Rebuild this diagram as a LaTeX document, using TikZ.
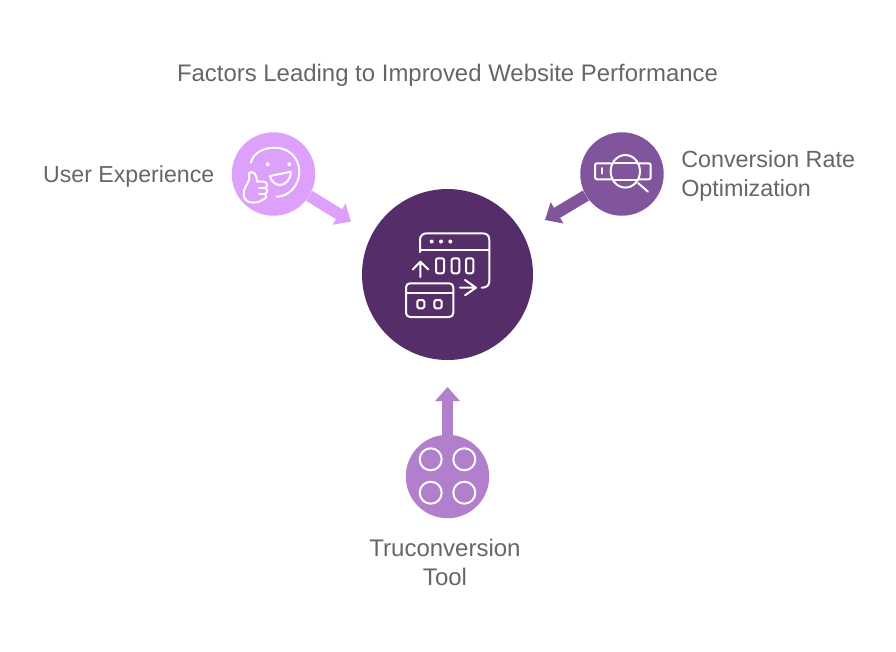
\documentclass[tikz,border=0pt]{standalone}
\usepackage{fontspec}
\setmainfont{Liberation Sans}
\usetikzlibrary{arrows.meta}
\definecolor{cCenter}{HTML}{552E69}
\definecolor{cLeft}{HTML}{DDA0FB}
\definecolor{cRight}{HTML}{81559B}
\definecolor{cBottom}{HTML}{B17FCB}
\definecolor{cText}{HTML}{666666}
\tikzset{
  x=0.75pt,y=-0.75pt,
  hub/.style={circle,inner sep=0pt,minimum size=128.25pt,fill=cCenter},
  sat/.style={circle,inner sep=0pt,minimum size=62.6pt},
  push/.style={line width=8.8pt,-{Triangle[length=10.5pt,width=18pt]}},
  ico/.style={draw=white,line width=1.5pt,line cap=round,line join=round,fill=none},
  lab/.style={text=cText,inner sep=0pt},
}
\begin{document}
\begin{tikzpicture}
\useasboundingbox (0,0) rectangle (896,651);
\fill[white] (0,0) rectangle (896,651);
\node[lab,font=\fontsize{17.95pt}{21.8pt}\selectfont] (title) at (447.5,75.5) {Factors Leading to Improved Website Performance};
\node[hub] (hub) at (447.5,274.5) {};
\node[sat,fill=cLeft] (ux) at (273.5,174) {};
\node[sat,fill=cRight] (cro) at (622,174) {};
\node[sat,fill=cBottom] (tool) at (447.5,476.5) {};
\coordinate (uxtip) at (351,221.5);
\coordinate (crotip) at (545,220);
\coordinate (tooltip) at (447.5,387);
\draw[push,cLeft] (ux) -- (uxtip);
\draw[push,cRight] (cro) -- (crotip);
\draw[push,cBottom] (tool) -- (tooltip);
\node[lab,anchor=east,font=\fontsize{17.35pt}{21.8pt}\selectfont] (uxl) at (214.5,176.5) {User Experience};
\node[lab,align=left,anchor=west,font=\fontsize{17.5pt}{21.8pt}\selectfont] (crol) at (681,176) {Conversion Rate\\Optimization};
\node[lab,align=center,font=\fontsize{18pt}{21.8pt}\selectfont] (tooll) at (445,562) {Truconversion\\Tool};
% hub icon
\draw[ico] (420,252) -- (420,240) .. controls (420,235.5) and (423,233.3) .. (427,233.3) -- (482,233.3) .. controls (487,233.3) and (489.3,235.5) .. (489.3,240) -- (489.3,281) .. controls (489.3,285) and (487,287.7) .. (481.7,287.7);
\draw[ico] (420,250) -- (489.3,250);
\fill[white] (431.7,241.5) circle (1.5pt) (441,241.5) circle (1.5pt) (450.3,241.5) circle (1.5pt);
\draw[ico] (420.3,277) -- (420.3,261.7) (412.7,269.5) -- (420.3,261.7) -- (428.3,269.5);
\draw[ico,rounded corners=1.5pt] (436,258.3) rectangle (444,273.3);
\draw[ico,rounded corners=1.5pt] (451.7,258.3) rectangle (459.3,273.3);
\draw[ico,rounded corners=1.5pt] (466,258.3) rectangle (473.3,273.3);
\draw[ico] (460,287.7) -- (476,287.7) (465,280) -- (476,287.7) -- (465,295.3);
\draw[ico,rounded corners=3pt] (406,283.3) rectangle (453.3,317);
\draw[ico] (406,292.7) -- (453.3,292.7);
\draw[ico,rounded corners=1.2pt] (417.3,300) rectangle (424.3,308.3);
\draw[ico,rounded corners=1.2pt] (434.3,300) rectangle (441.7,308.3);
% bottom icon
\draw[ico] (430.7,459.3) circle (8.25pt);
\draw[ico] (464.3,459.3) circle (8.25pt);
\draw[ico] (430.7,492.7) circle (8.25pt);
\draw[ico] (464.3,492.7) circle (8.25pt);
% smiley
\draw[ico] (250.7,162.7) .. controls (254,152) and (264,147.7) .. (275,147.7) .. controls (289,147.7) and (299.3,158) .. (299.3,172) .. controls (299.3,186) and (288,196.7) .. (276.7,196.7);
\fill[white] (267.7,164.3) circle (1.5pt) (289.3,164.3) circle (1.5pt);
\draw[ico] (270,176) -- (290.7,171.7) .. controls (291,180) and (285,185) .. (280,185) .. controls (275,185) and (271,181) .. (270,176) -- cycle;
\draw[ico] (249,180) .. controls (250,176) and (248,175) .. (249,173) .. controls (250,172) and (253,171.5) .. (255,174) .. controls (256.5,176) and (256.5,178) .. (257,181.5) -- (263,181.5) .. controls (267.5,181.5) and (268,186) .. (265.5,188) .. controls (268,190) and (268,193) .. (265.5,194) .. controls (267,196) and (266,199) .. (263,199.5) .. controls (259,203) and (253,203) .. (249,202) .. controls (244,200) and (243,196) .. (244,191) .. controls (245,186) and (248,184) .. (249,180) -- cycle;
\draw[ico] (259,187.5) -- (265.5,187.5) (259,194) -- (265.5,194);
% magnifier
\draw[ico,rounded corners=1.5pt] (610.7,163.3) -- (595,163.3) -- (595,179.3) -- (610.7,179.3);
\draw[ico,rounded corners=1.5pt] (638,163.3) -- (650.7,163.3) -- (650.7,179.3) -- (638,179.3);
\draw[ico] (602,168) -- (602,173.5);
\draw[ico] (625.3,171.3) ellipse (11pt and 12.2pt);
\draw[ico] (612.5,163.3) -- (638,163.3) (612.5,180) -- (638,180);
\draw[ico] (638,183) -- (648,191.7);
\end{tikzpicture}
\end{document}
